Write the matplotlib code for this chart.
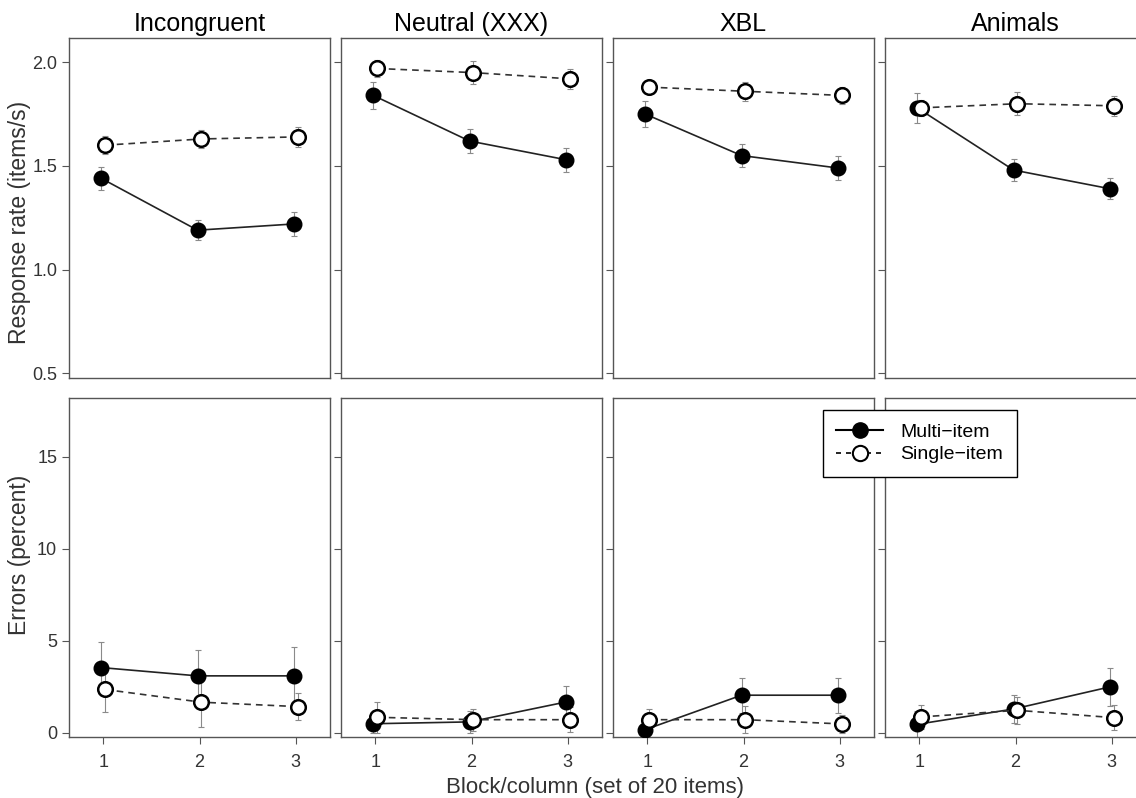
import matplotlib
matplotlib.use("Agg")
import matplotlib.pyplot as plt
from matplotlib.lines import Line2D

plt.rcParams['font.family'] = ['Liberation Sans', 'DejaVu Sans']

# Data
conditions = ["Incongruent", "Neutral (XXX)", "XBL", "Animals"]
blocks = [1, 2, 3]

# response rate (items/s)
rate_multi = [[1.44, 1.19, 1.22], [1.84, 1.62, 1.53], [1.75, 1.55, 1.49], [1.78, 1.48, 1.39]]
rate_multi_err = [[0.055, 0.048, 0.058], [0.067, 0.060, 0.058], [0.063, 0.055, 0.058], [0.072, 0.055, 0.050]]
rate_single = [[1.60, 1.63, 1.64], [1.97, 1.95, 1.92], [1.88, 1.86, 1.84], [1.78, 1.80, 1.79]]
rate_single_err = [[0.042, 0.045, 0.050], [0.040, 0.056, 0.048], [0.035, 0.045, 0.040], [0.040, 0.055, 0.048]]

# errors (percent)
err_multi = [[3.55, 3.10, 3.10], [0.50, 0.60, 1.68], [0.18, 2.05, 2.05], [0.47, 1.30, 2.50]]
err_multi_err = [[1.38, 1.40, 1.55], [0.50, 0.60, 0.85], [0.30, 0.94, 0.94], [0.70, 0.78, 1.03]]
err_single = [[2.36, 1.67, 1.43], [0.85, 0.72, 0.72], [0.72, 0.72, 0.49], [0.87, 1.23, 0.83]]
err_single_err = [[1.20, 1.36, 0.75], [0.83, 0.60, 0.67], [0.60, 0.72, 0.50], [0.63, 0.73, 0.67]]

W, H = 1136, 798
fig = plt.figure(figsize=(W / 100, H / 100), dpi=100)

lefts = [69, 341, 613, 885]
pw = 261
rows = [(38, 378), (398, 737)]
dodge = 0.02
spine_col = "#555555"
bar_col = "#8a8a8a"
txt_col = "#333333"


def panel(ax, multi, multi_e, single, single_e):
    xm = [b - dodge for b in blocks]
    xs = [b + dodge for b in blocks]
    ax.errorbar(xm, multi, yerr=multi_e, fmt="none", ecolor=bar_col,
                elinewidth=0.8, capsize=2, capthick=0.8, zorder=1)
    ax.errorbar(xs, single, yerr=single_e, fmt="none", ecolor=bar_col,
                elinewidth=0.8, capsize=2, capthick=0.8, zorder=1)
    ax.plot(xm, multi, "-", color="#222222", lw=1.2, marker="o", ms=10.5,
            mfc="black", mec="black", zorder=3)
    ax.plot(xs, single, "--", color="#333333", lw=1.2, dashes=(4, 3), marker="o",
            ms=10.5, mfc="white", mec="black", mew=1.8, zorder=4)
    for s in ax.spines.values():
        s.set_color(spine_col)
        s.set_linewidth(1.0)
    ax.tick_params(colors=spine_col, labelcolor=txt_col, labelsize=13,
                   length=5, width=0.8)
    ax.set_xlim(0.645, 3.355)


for i, cond in enumerate(conditions):
    # top row: response rate
    top, bot = rows[0]
    ax = fig.add_axes([lefts[i] / W, 1 - bot / H, pw / W, (bot - top) / H])
    panel(ax, rate_multi[i], rate_multi_err[i], rate_single[i], rate_single_err[i])
    ax.set_ylim(0.477, 2.117)
    ax.set_yticks([0.5, 1.0, 1.5, 2.0])
    ax.set_xticks([])
    ax.set_title(cond, fontsize=18, pad=5)
    if i > 0:
        ax.set_yticklabels([])

    # bottom row: errors
    top, bot = rows[1]
    ax = fig.add_axes([lefts[i] / W, 1 - bot / H, pw / W, (bot - top) / H])
    panel(ax, err_multi[i], err_multi_err[i], err_single[i], err_single_err[i])
    ax.set_ylim(-0.22, 18.19)
    ax.set_yticks([0, 5, 10, 15])
    ax.set_xticks(blocks)
    ax.tick_params(axis="x", pad=7)
    if i > 0:
        ax.set_yticklabels([])

fig.text(20 / W, 1 - 222 / H, "Response rate (items/s)", rotation=90, ha="center",
         va="center", fontsize=16.5, color=txt_col)
fig.text(20 / W, 1 - 555 / H, "Errors (percent)", rotation=90, ha="center",
         va="center", fontsize=16.5, color=txt_col)
fig.text(595 / W, 1 - 787 / H, "Block/column (set of 20 items)", ha="center",
         va="center", fontsize=16, color=txt_col)

handles = [
    Line2D([], [], color="black", lw=1.5, marker="o", ms=11, mfc="black", mec="black"),
    Line2D([], [], color="black", lw=1.2, ls="--", dashes=(3, 3), marker="o", ms=11,
           mfc="white", mec="black", mew=1.5),
]
fig.legend(handles, ["Multi\u2212item", "Single\u2212item"], loc="upper left",
           bbox_to_anchor=(813 / W, 1 - 400 / H), fontsize=14, frameon=True,
           fancybox=False, edgecolor="black", framealpha=1, handlelength=2.4,
           borderpad=0.7, labelspacing=0.25, handletextpad=0.9)

fig.savefig("out.png", dpi=100)
